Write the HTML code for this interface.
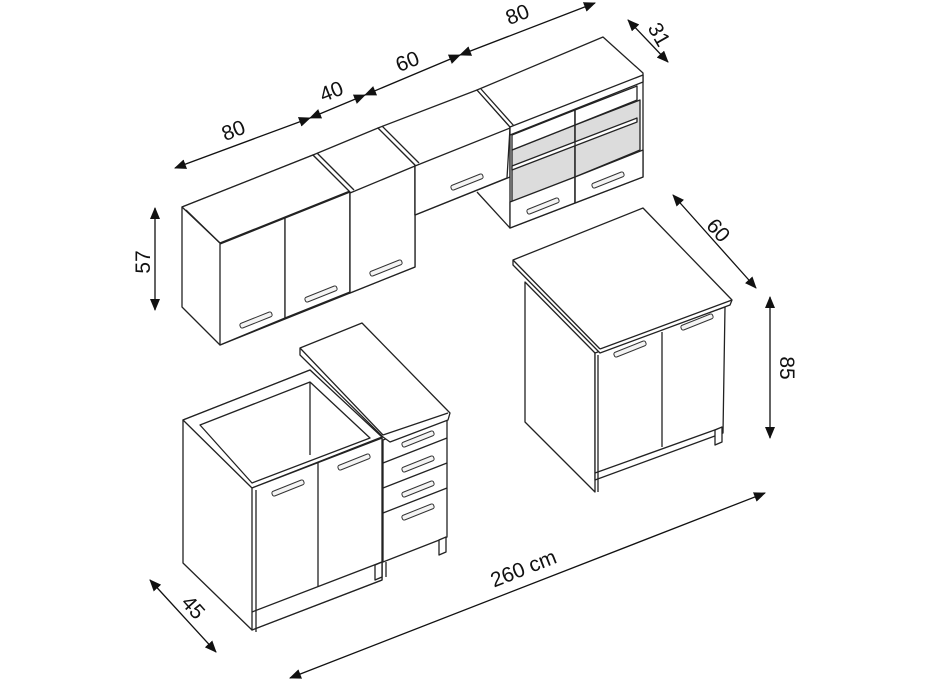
<!DOCTYPE html>
<html><head><meta charset="utf-8"><style>html,body{margin:0;padding:0;background:#fff}svg{display:block}</style></head>
<body>
<svg width="928" height="686" viewBox="0 0 928 686" xmlns="http://www.w3.org/2000/svg">
<defs>
<marker id="ah" markerWidth="12" markerHeight="10" refX="11" refY="5" orient="auto-start-reverse" markerUnits="userSpaceOnUse"><path d="M0,0 L12,5 L0,10 Z" fill="#111"/></marker>
<g id="hd"><rect x="-17" y="-2.5" width="34" height="5" rx="2" fill="#f4f4f4" stroke="#333" stroke-width="1"/></g>
</defs>
<g fill="#fff" stroke="#222" stroke-width="1.3" stroke-linejoin="round">
<polygon points="182,207 313,155 350,192 350,293 220,345 182,307"/>
<polygon points="182,207 313,155 350,191 220,243"/>
<line x1="186" y1="210" x2="223" y2="246"/>
<polygon points="220,244 285,218 285,318 220,345"/>
<polygon points="285,218 350,192 350,292 285,318"/>
<polygon points="313,155 378,128 415,165 415,267 350,293 350,192"/>
<line x1="317" y1="153" x2="354" y2="190"/>
<polygon points="350,193 415,166 415,267 350,293"/>
<polygon points="378,128 477,90 510,127 510,177 415,215 415,165"/>
<line x1="382" y1="126" x2="419" y2="163"/>
<polygon points="415,166 510,128 507,178 415,215"/>
<line x1="477" y1="192" x2="510" y2="228"/>
<polygon points="477,90 603,37 643,73 643,177 510,228 510,127"/>
<line x1="481" y1="89" x2="514" y2="126"/>
<polygon points="510,127 643,75 643,82 510,135"/>
<polygon points="512,150 575,125 575,177 512,202" fill="#dcdcdc"/>
<polygon points="575,125 640,100 640,150 575,177" fill="#dcdcdc"/>
<polygon points="512,135 575,110 575,125 512,150"/>
<polygon points="575,110 637,86 637,100 575,125"/>
<polygon points="512,166 637,118 637,122 512,170"/>
<polygon points="510,202 575,177 575,203 510,228"/>
<polygon points="575,177 643,150 643,177 575,203"/>
<line x1="575" y1="110" x2="575" y2="203"/>
</g>
<g>
<use href="#hd" transform="translate(256,320) rotate(-21.8)"/>
<use href="#hd" transform="translate(321,294) rotate(-21.8)"/>
<use href="#hd" transform="translate(386,268) rotate(-21.8)"/>
<use href="#hd" transform="translate(467,182) rotate(-21.8)"/>
<use href="#hd" transform="translate(543,206) rotate(-21.8)"/>
<use href="#hd" transform="translate(608,180) rotate(-21.8)"/>
</g>
<g fill="#fff" stroke="#222" stroke-width="1.3" stroke-linejoin="round">
<polygon points="183,420 310,370 382,438 382,580 252,630 183,563"/>
<polygon points="183,420 310,370 382,437 252,488"/>
<polygon points="200,425 310,382 370,438 252,483"/>
<line x1="310" y1="382" x2="310" y2="455"/>
<polygon points="252,488 382,438 382,580 252,630"/>
<line x1="318" y1="463" x2="318" y2="587"/>
<line x1="252" y1="612" x2="382" y2="562"/>
<line x1="256" y1="490" x2="256" y2="632"/>
<polygon points="383,440 447,415 447,537 383,562"/>
<line x1="383" y1="463" x2="447" y2="438"/>
<line x1="383" y1="488" x2="447" y2="463"/>
<line x1="383" y1="513" x2="447" y2="488"/>
<polygon points="439,540 446,537 446,552 439,555"/>
<polygon points="375,565 382,562 382,577 375,580"/>
<line x1="386" y1="562" x2="386" y2="577"/>
<polygon points="300,348 362,323 450,413 448,420 390,442 383,437 300,355"/>
<line x1="300" y1="348" x2="383" y2="435"/>
<line x1="383" y1="435" x2="448" y2="413"/>
<polygon points="525,282 595,353 595,492 525,422"/>
<polygon points="595,353 725,307 723,433 595,480"/>
<line x1="662" y1="332" x2="662" y2="447"/>
<line x1="595" y1="473" x2="723" y2="427"/>
<line x1="598" y1="355" x2="598" y2="492"/>
<polygon points="715,430 722,427 722,442 715,445"/>
<polygon points="513,260 643,208 732,300 730,305 600,353 513,265"/>
<line x1="513" y1="260" x2="600" y2="349"/>
<line x1="600" y1="349" x2="732" y2="300"/>
</g>
<g>
<use href="#hd" transform="translate(288,488) rotate(-21.8)"/>
<use href="#hd" transform="translate(354,462) rotate(-21.8)"/>
<use href="#hd" transform="translate(418,439) rotate(-21.8)"/>
<use href="#hd" transform="translate(418,464) rotate(-21.8)"/>
<use href="#hd" transform="translate(418,489) rotate(-21.8)"/>
<use href="#hd" transform="translate(418,512) rotate(-21.8)"/>
<use href="#hd" transform="translate(630,349) rotate(-21.8)"/>
<use href="#hd" transform="translate(697,322) rotate(-21.8)"/>
</g>
<g stroke="#111" stroke-width="1.3" fill="none">
<line x1="175" y1="168" x2="310" y2="118" marker-start="url(#ah)" marker-end="url(#ah)"/>
<line x1="310" y1="118" x2="365" y2="95" marker-start="url(#ah)" marker-end="url(#ah)"/>
<line x1="365" y1="95" x2="460" y2="55" marker-start="url(#ah)" marker-end="url(#ah)"/>
<line x1="460" y1="55" x2="595" y2="3" marker-start="url(#ah)" marker-end="url(#ah)"/>
<line x1="628" y1="20" x2="668" y2="62" marker-start="url(#ah)" marker-end="url(#ah)"/>
<line x1="155" y1="208" x2="155" y2="310" marker-start="url(#ah)" marker-end="url(#ah)"/>
<line x1="673" y1="195" x2="756" y2="288" marker-start="url(#ah)" marker-end="url(#ah)"/>
<line x1="770" y1="297" x2="770" y2="438" marker-start="url(#ah)" marker-end="url(#ah)"/>
<line x1="150" y1="580" x2="216" y2="652" marker-start="url(#ah)" marker-end="url(#ah)"/>
<line x1="290" y1="678" x2="765" y2="493" marker-start="url(#ah)" marker-end="url(#ah)"/>
</g>
<g font-family="Liberation Sans, sans-serif" font-size="21" fill="#111" text-anchor="middle">
<text transform="translate(236,137) rotate(-21.5)">80</text>
<text transform="translate(334,98) rotate(-21.5)">40</text>
<text transform="translate(410,68) rotate(-21.5)">60</text>
<text transform="translate(520,21) rotate(-21.5)">80</text>
<text transform="translate(653,38) rotate(60)">31</text>
<text transform="translate(150,262) rotate(-90)">57</text>
<text transform="translate(713,235) rotate(48)">60</text>
<text transform="translate(780,368) rotate(90)">85</text>
<text transform="translate(188,612) rotate(48)">45</text>
<text transform="translate(526,575) rotate(-21.5)">260 cm</text>
</g>
</svg>
</body></html>
